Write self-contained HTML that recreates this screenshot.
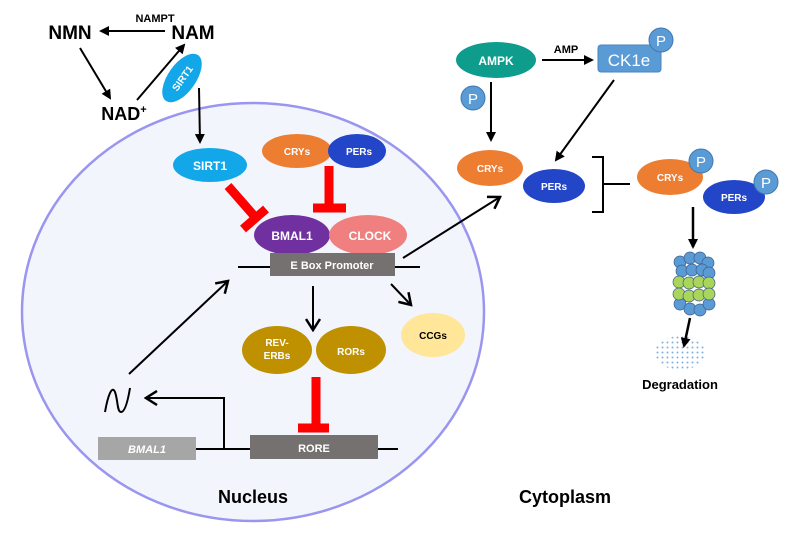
<!DOCTYPE html>
<html><head><meta charset="utf-8"><style>
html,body{margin:0;padding:0;background:#fff;}
svg{display:block;font-family:"Liberation Sans",sans-serif;}
</style></head><body>
<svg width="800" height="535" viewBox="0 0 800 535" xmlns="http://www.w3.org/2000/svg">
<defs>
<marker id="a" markerWidth="10" markerHeight="10" refX="8" refY="5" orient="auto" markerUnits="userSpaceOnUse"><path d="M0,0 L10,5 L0,10 Z" fill="#000"/></marker>
<marker id="o" markerWidth="14" markerHeight="16" refX="12" refY="8" orient="auto" markerUnits="userSpaceOnUse"><path d="M1,1 L12,8 L1,15" fill="none" stroke="#000" stroke-width="2.5"/></marker>
<pattern id="dots" width="5" height="5" patternUnits="userSpaceOnUse"><circle cx="2.5" cy="2.5" r="1" fill="#7fb2e0"/></pattern>
</defs>
<ellipse cx="253" cy="312" rx="231" ry="209" fill="#f2f5fc" stroke="#9a96f0" stroke-width="2.5"/>

<g font-weight="bold" fill="#000">
<text x="70" y="39" font-size="19" text-anchor="middle">NMN</text>
<text x="193" y="39" font-size="19" text-anchor="middle">NAM</text>
<text x="155" y="22" font-size="11" text-anchor="middle">NAMPT</text>
<text x="124" y="120" font-size="18" text-anchor="middle">NAD<tspan font-size="11" dy="-7">+</tspan></text>
</g>
<line x1="165" y1="31" x2="101" y2="31" stroke="#000" stroke-width="2" marker-end="url(#a)"/>
<line x1="80" y1="48" x2="110" y2="98" stroke="#000" stroke-width="2" marker-end="url(#a)"/>
<line x1="137" y1="100" x2="184" y2="45" stroke="#000" stroke-width="2" marker-end="url(#a)"/>
<ellipse cx="182" cy="78" rx="28" ry="14" transform="rotate(-55 182 78)" fill="#12a7e8"/>
<text x="182" y="82" font-size="10" font-weight="bold" fill="#fff" text-anchor="middle" transform="rotate(-55 182 78)">SIRT1</text>
<line x1="199" y1="88" x2="200" y2="142" stroke="#000" stroke-width="2" marker-end="url(#a)"/>

<ellipse cx="210" cy="165" rx="37" ry="17" fill="#12a7e8"/>
<text x="210" y="170" font-size="12" font-weight="bold" fill="#fff" text-anchor="middle">SIRT1</text>
<ellipse cx="297" cy="151" rx="35" ry="17" fill="#ed7d31"/>
<ellipse cx="357" cy="151" rx="29" ry="17" fill="#2346c9"/>
<text x="297" y="155" font-size="10" font-weight="bold" fill="#fff" text-anchor="middle">CRYs</text>
<text x="359" y="155" font-size="10" font-weight="bold" fill="#fff" text-anchor="middle">PERs</text>

<g stroke="#ff0000" stroke-width="9" fill="none">
<line x1="228" y1="186" x2="256" y2="218"/>
<line x1="243" y1="229" x2="266" y2="209"/>
<line x1="329" y1="166" x2="329" y2="205"/>
<line x1="313" y1="208" x2="346" y2="208"/>
<line x1="316" y1="377" x2="316" y2="424"/>
<line x1="298" y1="428" x2="329" y2="428"/>
</g>

<ellipse cx="292" cy="235" rx="38" ry="20" fill="#7030a0"/>
<ellipse cx="368" cy="235" rx="39" ry="20" fill="#f08080"/>
<text x="292" y="240" font-size="12" font-weight="bold" fill="#fff" text-anchor="middle">BMAL1</text>
<text x="370" y="240" font-size="12" font-weight="bold" fill="#fff" text-anchor="middle">CLOCK</text>

<line x1="238" y1="267" x2="420" y2="267" stroke="#000" stroke-width="2"/>
<rect x="270" y="253" width="125" height="23" fill="#767171"/>
<text x="332" y="269" font-size="11" font-weight="bold" fill="#fff" text-anchor="middle">E Box Promoter</text>

<line x1="403" y1="258" x2="500" y2="197" stroke="#000" stroke-width="2" marker-end="url(#o)"/>
<line x1="313" y1="286" x2="313" y2="330" stroke="#000" stroke-width="2" marker-end="url(#o)"/>
<line x1="391" y1="284" x2="411" y2="305" stroke="#000" stroke-width="2" marker-end="url(#o)"/>

<ellipse cx="277" cy="350" rx="35" ry="24" fill="#bf9000"/>
<ellipse cx="351" cy="350" rx="35" ry="24" fill="#bf9000"/>
<text x="277" y="346" font-size="10" font-weight="bold" fill="#fff" text-anchor="middle">REV-</text>
<text x="277" y="359" font-size="10" font-weight="bold" fill="#fff" text-anchor="middle">ERBs</text>
<text x="351" y="355" font-size="10" font-weight="bold" fill="#fff" text-anchor="middle">RORs</text>
<ellipse cx="433" cy="335" rx="32" ry="22" fill="#ffe699"/>
<text x="433" y="339" font-size="10" font-weight="bold" fill="#000" text-anchor="middle">CCGs</text>

<line x1="196" y1="449" x2="398" y2="449" stroke="#000" stroke-width="2"/>
<rect x="98" y="437" width="98" height="23" fill="#a6a6a6"/>
<text x="147" y="453" font-size="11" font-weight="bold" font-style="italic" fill="#fff" text-anchor="middle">BMAL1</text>
<rect x="250" y="435" width="128" height="24" fill="#767171"/>
<text x="314" y="452" font-size="11" font-weight="bold" fill="#fff" text-anchor="middle">RORE</text>
<polyline points="224,449 224,398 146,398" fill="none" stroke="#000" stroke-width="2" marker-end="url(#o)"/>
<path d="M105,412 C108,395 112,385 115,392 C118,400 117,412 121,412 C125,412 128,400 130,388" fill="none" stroke="#000" stroke-width="2"/>
<line x1="129" y1="374" x2="228" y2="281" stroke="#000" stroke-width="2" marker-end="url(#o)"/>

<text x="253" y="503" font-size="18" font-weight="bold" text-anchor="middle">Nucleus</text>
<text x="565" y="503" font-size="18" font-weight="bold" text-anchor="middle">Cytoplasm</text>

<ellipse cx="496" cy="60" rx="40" ry="18" fill="#0e9c8c"/>
<text x="496" y="65" font-size="12" font-weight="bold" fill="#fff" text-anchor="middle">AMPK</text>
<text x="566" y="53" font-size="11" font-weight="bold" text-anchor="middle">AMP</text>
<line x1="542" y1="60" x2="592" y2="60" stroke="#000" stroke-width="2" marker-end="url(#a)"/>
<rect x="598" y="45" width="63" height="27" rx="3" fill="#5b9bd5" stroke="#4a86c0"/>
<text x="629" y="66" font-size="17" fill="#fff" text-anchor="middle">CK1e</text>
<circle cx="661" cy="40" r="12" fill="#5b9bd5" stroke="#3f79b0"/>
<text x="661" y="46" font-size="15" fill="#fff" text-anchor="middle">P</text>
<circle cx="473" cy="98" r="12" fill="#5b9bd5" stroke="#3f79b0"/>
<text x="473" y="104" font-size="15" fill="#fff" text-anchor="middle">P</text>
<line x1="491" y1="82" x2="491" y2="140" stroke="#000" stroke-width="2" marker-end="url(#a)"/>
<line x1="614" y1="80" x2="556" y2="160" stroke="#000" stroke-width="2" marker-end="url(#a)"/>

<ellipse cx="490" cy="168" rx="33" ry="18" fill="#ed7d31"/>
<text x="490" y="172" font-size="10" font-weight="bold" fill="#fff" text-anchor="middle">CRYs</text>
<ellipse cx="554" cy="186" rx="31" ry="17" fill="#2346c9"/>
<text x="554" y="190" font-size="10" font-weight="bold" fill="#fff" text-anchor="middle">PERs</text>
<polyline points="592,157 603,157 603,212 592,212" fill="none" stroke="#000" stroke-width="2"/>
<line x1="603" y1="184" x2="630" y2="184" stroke="#000" stroke-width="2"/>

<ellipse cx="670" cy="177" rx="33" ry="18" fill="#ed7d31"/>
<text x="670" y="181" font-size="10" font-weight="bold" fill="#fff" text-anchor="middle">CRYs</text>
<circle cx="701" cy="161" r="12" fill="#5b9bd5" stroke="#3f79b0"/>
<text x="701" y="167" font-size="15" fill="#fff" text-anchor="middle">P</text>
<ellipse cx="734" cy="197" rx="31" ry="17" fill="#2346c9"/>
<text x="734" y="201" font-size="10" font-weight="bold" fill="#fff" text-anchor="middle">PERs</text>
<circle cx="766" cy="182" r="12" fill="#5b9bd5" stroke="#3f79b0"/>
<text x="766" y="188" font-size="15" fill="#fff" text-anchor="middle">P</text>
<line x1="693" y1="207" x2="693" y2="247" stroke="#000" stroke-width="2.5" marker-end="url(#a)"/>

<g stroke="#3a5f8a" stroke-width="0.7">
<g fill="#5b9bd5">
<circle cx="680" cy="262" r="6"/><circle cx="690" cy="258" r="6"/><circle cx="700" cy="258" r="6"/><circle cx="708" cy="263" r="6"/>
<circle cx="682" cy="271" r="6"/><circle cx="692" cy="270" r="6"/><circle cx="702" cy="270" r="6"/><circle cx="709" cy="273" r="6"/>
<circle cx="680" cy="304" r="6"/><circle cx="690" cy="309" r="6"/><circle cx="700" cy="310" r="6"/><circle cx="709" cy="304" r="6"/>
</g>
<g fill="#a9d65a">
<circle cx="679" cy="282" r="6"/><circle cx="689" cy="283" r="6"/><circle cx="699" cy="282" r="6"/><circle cx="709" cy="283" r="6"/>
<circle cx="679" cy="294" r="6"/><circle cx="689" cy="296" r="6"/><circle cx="699" cy="295" r="6"/><circle cx="709" cy="294" r="6"/>
</g>
</g>
<ellipse cx="680" cy="353" rx="25" ry="17" fill="url(#dots)"/>
<line x1="690" y1="318" x2="684" y2="346" stroke="#000" stroke-width="2.5" marker-end="url(#a)"/>
<text x="680" y="389" font-size="13" font-weight="bold" text-anchor="middle">Degradation</text>
</svg>
</body></html>
